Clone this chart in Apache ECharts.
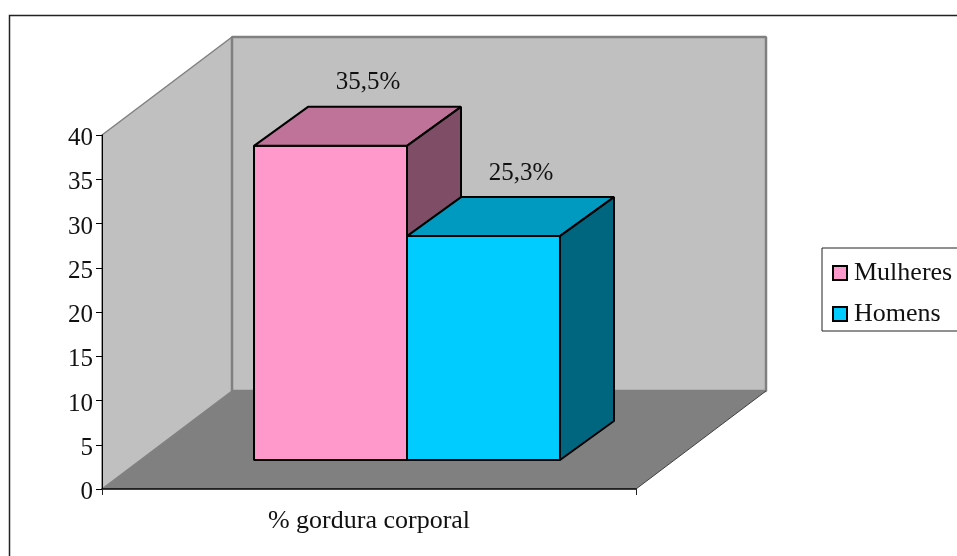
<!DOCTYPE html>
<html>
<head>
<meta charset="utf-8">
<style>
  html, body { margin: 0; padding: 0; background: #fff; overflow: hidden; }
  #chart { width: 957px; height: 556px; }
</style>
</head>
<body>
<div id="chart"></div>
<script src="https://cdn.jsdelivr.net/npm/echarts@6/dist/echarts.min.js"></script>
<script>
const categories = ['% gordura corporal']
const seriesNames = ['Mulheres', 'Homens']
const mulheres = [35.5]
const homens = [25.3]
const yMax = 40
const yStep = 5

const FONT = 'Liberation Serif'
// fake 3d: how far the back wall and the bars are pushed from the axis plane
const WALL_DX = 130
const WALL_DY = -98
const BAR_OFF_X = 38
const BAR_OFF_Y = -29
const BAR_DX = 54
const BAR_DY = -39
const BAR_RATIO = 0.2865

const poly = (points, fill, stroke, lineWidth) => ({
  type: 'polygon',
  shape: { points },
  style: { fill, stroke, lineWidth: lineWidth || 0, lineJoin: 'bevel' }
})

const renderWalls = (params) => {
  const { x, y, width, height } = params.coordSys
  const b = y + height
  const r = x + width
  return {
    type: 'group',
    children: [
      // floor
      poly([[x, b], [x + WALL_DX, b + WALL_DY], [r + WALL_DX, b + WALL_DY], [r, b]], '#808080'),
      // left wall
      poly([[x, y], [x + WALL_DX, y + WALL_DY], [x + WALL_DX, b + WALL_DY], [x, b]], '#c0c0c0', '#808080', 1.5),
      // back wall
      poly([[x + WALL_DX, y + WALL_DY], [r + WALL_DX, y + WALL_DY], [r + WALL_DX, b + WALL_DY], [x + WALL_DX, b + WALL_DY]], '#c0c0c0', '#808080', 2.5),
      {
        type: 'line',
        shape: { x1: r, y1: b, x2: r + WALL_DX, y2: b + WALL_DY },
        style: { stroke: '#404040', lineWidth: 1 }
      }
    ]
  }
}

const makeBarRender = (index, front, top, side, labels) => (params, api) => {
  const bandW = api.size([1, 0])[0]
  const w = bandW * BAR_RATIO
  const base = api.coord([api.value(0), 0])
  const head = api.coord([api.value(0), api.value(1)])
  const left = base[0] + (index - 1) * w + BAR_OFF_X
  const right = left + w
  const yBase = base[1] + BAR_OFF_Y
  const yTop = head[1] + BAR_OFF_Y
  const stroke = '#000'
  return {
    type: 'group',
    children: [
      poly([[left, yTop], [right, yTop], [right, yBase], [left, yBase]], front, stroke, 2),
      poly([[left, yTop], [left + BAR_DX, yTop + BAR_DY], [right + BAR_DX, yTop + BAR_DY], [right, yTop]], top, stroke, 2),
      poly([[right, yTop], [right + BAR_DX, yTop + BAR_DY], [right + BAR_DX, yBase + BAR_DY], [right, yBase]], side, stroke, 2),
      {
        type: 'text',
        style: {
          text: labels[params.dataIndex],
          x: (left + right) / 2 + 37.5,
          y: yTop - 63,
          align: 'center',
          verticalAlign: 'middle',
          font: '25px "' + FONT + '"',
          fill: '#111'
        }
      }
    ]
  }
}

const asLabel = v => String(v).replace('.', ',') + '%'
const asPoints = values => values.map((v, i) => [i, v])

const chart = echarts.init(document.getElementById('chart'), null, { renderer: 'canvas' })

chart.setOption({
  animation: false,
  backgroundColor: '#fff',
  textStyle: { fontFamily: FONT, color: '#111' },
  graphic: [{
    type: 'rect',
    silent: true,
    z: -1,
    shape: { x: 9.5, y: 15.5, width: 1000, height: 1000 },
    style: { fill: 'none', stroke: '#222', lineWidth: 1.5 }
  }],
  legend: {
    data: seriesNames,
    orient: 'vertical',
    left: 822,
    top: 248,
    icon: 'rect',
    itemWidth: 14,
    itemHeight: 14,
    itemGap: 15,
    padding: [12, 20, 4, 10],
    backgroundColor: '#fff',
    borderColor: '#222',
    borderWidth: 1,
    selectedMode: false,
    itemStyle: { borderColor: '#000', borderWidth: 2 },
    textStyle: { fontFamily: FONT, fontSize: 26, color: '#111', padding: [0, 0, 0, 2] }
  },
  grid: { left: 102, right: 321, top: 135, bottom: 67, containLabel: false },
  xAxis: {
    type: 'category',
    data: categories,
    z: 5,
    axisLine: { lineStyle: { color: '#000', width: 1.5 } },
    axisTick: { show: true, length: 6, lineStyle: { color: '#222' } },
    axisLabel: { fontFamily: FONT, fontSize: 26, color: '#111', margin: 19 }
  },
  yAxis: {
    type: 'value',
    min: 0,
    max: yMax,
    interval: yStep,
    z: 5,
    axisLine: { show: true, lineStyle: { color: '#000', width: 1 } },
    axisTick: { show: true, length: 6, lineStyle: { color: '#000' } },
    // small lineHeight with top align nudges the digits below the tick, like the original
    axisLabel: { fontFamily: FONT, fontSize: 25, color: '#111', margin: 9, verticalAlign: 'top', lineHeight: 7 },
    splitLine: { show: false }
  },
  series: [
    {
      type: 'custom',
      name: 'walls',
      silent: true,
      z: 1,
      data: [[0, 0]],
      encode: { x: 0, y: 1 },
      renderItem: renderWalls
    },
    {
      type: 'custom',
      name: seriesNames[0],
      z: 2,
      itemStyle: { color: '#ff99cc' },
      data: asPoints(mulheres),
      encode: { x: 0, y: 1 },
      renderItem: makeBarRender(0, '#ff99cc', '#bf7399', '#804d66', mulheres.map(asLabel))
    },
    {
      type: 'custom',
      name: seriesNames[1],
      z: 3,
      itemStyle: { color: '#00ccff' },
      data: asPoints(homens),
      encode: { x: 0, y: 1 },
      renderItem: makeBarRender(1, '#00ccff', '#0099bf', '#006680', homens.map(asLabel))
    }
  ]
})
</script>
</body>
</html>
